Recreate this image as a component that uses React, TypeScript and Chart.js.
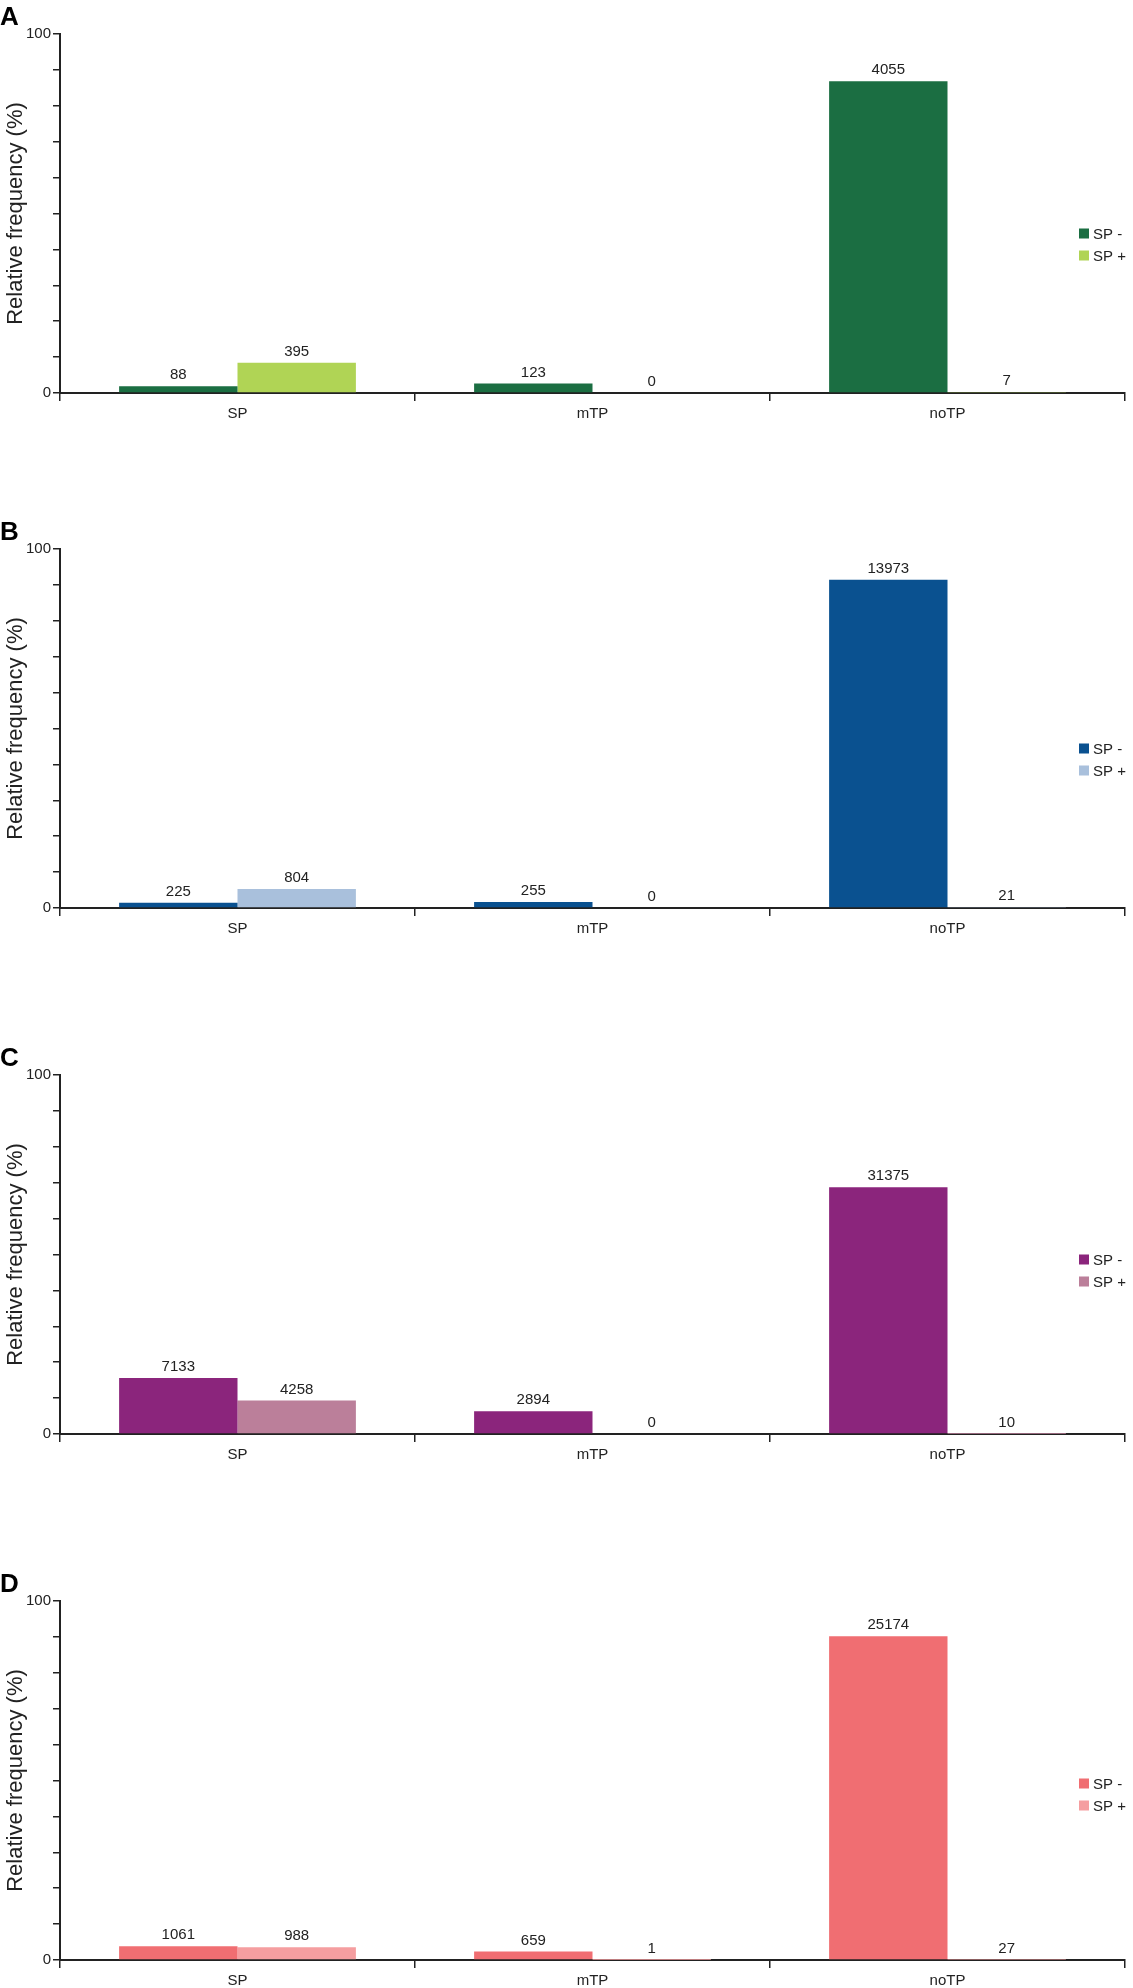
import { useEffect, useRef } from "react";
import { Chart, registerables } from "chart.js";

Chart.register(...registerables);
Chart.defaults.font.family = "'Liberation Sans', Arial, sans-serif";
Chart.defaults.color = "#222";

const categories = ["SP", "mTP", "noTP"];
const seriesNames = ["SP -", "SP +"];
const yTickLabels = [0, 100];

// relative frequency (%), counts from the bar labels
const pctA_minus = [1.89, 2.63, 86.87];
const pctA_plus = [8.46, 0, 0.15];
const countA_minus = [88, 123, 4055];
const countA_plus = [395, 0, 7];

const pctB_minus = [1.47, 1.67, 91.46];
const pctB_plus = [5.26, 0, 0.14];
const countB_minus = [225, 255, 13973];
const countB_plus = [804, 0, 21];

const pctC_minus = [15.62, 6.34, 68.7];
const pctC_plus = [9.32, 0, 0.02];
const countC_minus = [7133, 2894, 31375];
const countC_plus = [4258, 0, 10];

const pctD_minus = [3.8, 2.36, 90.2];
const pctD_plus = [3.54, 0.004, 0.1];
const countD_minus = [1061, 659, 25174];
const countD_plus = [988, 1, 27];

interface PanelProps {
  letter: string;
  top: number;
  minus: number[];
  plus: number[];
  minusCounts: number[];
  plusCounts: number[];
  colors: string[];
  legendShift: number;
}

function Panel({ letter, top, minus, plus, minusCounts, plusCounts, colors, legendShift }: PanelProps) {
  const chartRef = useRef<HTMLCanvasElement | null>(null);

  useEffect(() => {
    if (!chartRef.current) return;
    const counts = [minusCounts, plusCounts];

    // bar labels, panel letter and the small legend on the right
    const decor = {
      id: "decor",
      afterDatasetsDraw(chart: any) {
        const { ctx, chartArea } = chart;
        ctx.save();
        ctx.fillStyle = "#222";
        ctx.font = "15px 'Liberation Sans', Arial, sans-serif";
        ctx.textAlign = "center";
        ctx.textBaseline = "alphabetic";
        chart.data.datasets.forEach((_ds: any, i: number) => {
          chart.getDatasetMeta(i).data.forEach((bar: any, j: number) => {
            ctx.fillText(String(counts[i][j]), bar.x, bar.y - 7);
          });
        });

        ctx.fillStyle = "#000";
        ctx.textAlign = "left";
        ctx.font = "bold 26px 'Liberation Sans', Arial, sans-serif";
        ctx.fillText(letter, 0, 25);

        const mid = (chartArea.top + chartArea.bottom) / 2 + legendShift;
        ctx.font = "15px 'Liberation Sans', Arial, sans-serif";
        ctx.textBaseline = "middle";
        seriesNames.forEach((name, i) => {
          const y = mid + i * 22;
          ctx.fillStyle = colors[i];
          ctx.fillRect(1079, y - 5, 10, 10);
          ctx.fillStyle = "#222";
          ctx.fillText(name, 1093, y + 1);
        });
        ctx.restore();
      },
    };

    const myChart = new Chart(chartRef.current, {
      type: "bar",
      data: {
        labels: categories,
        datasets: [
          { label: seriesNames[0], data: minus, backgroundColor: colors[0], borderWidth: 0 },
          { label: seriesNames[1], data: plus, backgroundColor: colors[1], borderWidth: 0 },
        ],
      },
      options: {
        animation: false,
        responsive: true,
        maintainAspectRatio: false,
        layout: { padding: { top: 34, right: 8, left: 0, bottom: 0 } },
        datasets: { bar: { categoryPercentage: 0.667, barPercentage: 1 } },
        plugins: {
          legend: { display: false },
          tooltip: { enabled: false },
        },
        scales: {
          x: {
            grid: {
              display: true,
              drawOnChartArea: false,
              drawTicks: true,
              tickLength: 8,
              color: "#222",
              lineWidth: 1.5,
              offset: true,
            },
            border: { display: true, color: "#222", width: 2 },
            ticks: { color: "#222", font: { size: 15 }, padding: 4, maxRotation: 0 },
            afterFit: (s: any) => {
              s.height = 30;
            },
          },
          y: {
            min: 0,
            max: 100,
            ticks: {
              stepSize: 10,
              autoSkip: false,
              color: "#222",
              font: { size: 15 },
              padding: 2,
              callback: (v: any) => (yTickLabels.includes(Number(v)) ? String(v) : ""),
            },
            grid: {
              drawOnChartArea: false,
              drawTicks: true,
              tickLength: 7,
              color: "#222",
              lineWidth: 1.5,
            },
            border: { display: true, color: "#222", width: 2 },
            title: {
              display: true,
              text: "Relative frequency (%)",
              color: "#222",
              font: { size: 22 },
              padding: { top: 3, bottom: 0 },
            },
            afterFit: (s: any) => {
              s.width = 60;
            },
          },
        },
      },
      plugins: [decor],
    });
    return () => {
      myChart.destroy();
    };
  }, [chartRef]);

  return (
    <div style={{ position: "absolute", left: 0, top: top, width: 1133, height: 423 }}>
      <canvas ref={chartRef} />
    </div>
  );
}

export default function App() {
  return (
    <div style={{ position: "absolute", left: 0, top: 0, width: 1133, height: 1988, background: "#fff" }}>
      <Panel
        letter="A"
        top={0}
        minus={pctA_minus}
        plus={pctA_plus}
        minusCounts={countA_minus}
        plusCounts={countA_plus}
        colors={["#1b6e42", "#b0d455"]}
        legendShift={20}
      />
      <Panel
        letter="B"
        top={515}
        minus={pctB_minus}
        plus={pctB_plus}
        minusCounts={countB_minus}
        plusCounts={countB_plus}
        colors={["#0a5190", "#a9c0dc"]}
        legendShift={20}
      />
      <Panel
        letter="C"
        top={1041}
        minus={pctC_minus}
        plus={pctC_plus}
        minusCounts={countC_minus}
        plusCounts={countC_plus}
        colors={["#8b257c", "#bb7f9a"]}
        legendShift={5}
      />
      <Panel
        letter="D"
        top={1567}
        minus={pctD_minus}
        plus={pctD_plus}
        minusCounts={countD_minus}
        plusCounts={countD_plus}
        colors={["#f06e72", "#f59ea0"]}
        legendShift={3}
      />
    </div>
  );
}
